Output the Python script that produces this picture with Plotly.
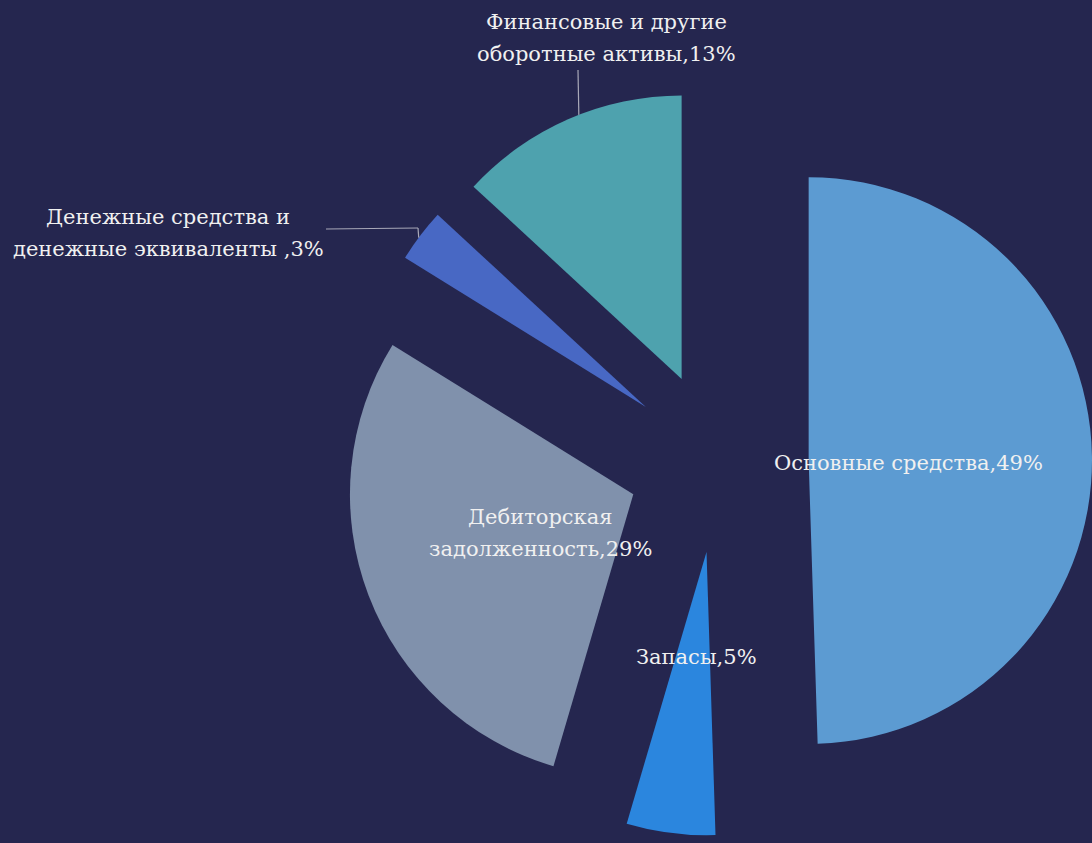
import math
import plotly.graph_objects as go

# Asset structure, percent of total
categories = [
    "Основные средства",
    "Запасы",
    "Дебиторская задолженность",
    "Денежные средства и денежные эквиваленты",
    "Финансовые и другие оборотные активы",
]
shares = [49, 5, 29, 3, 13]
label_lines = [
    ["Основные средства,49%"],
    ["Запасы,5%"],
    ["Дебиторская", "задолженность,29%"],
    ["Денежные средства и", "денежные эквиваленты ,3%"],
    ["Финансовые и другие", "оборотные активы,13%"],
]
colors = ["#5c9bd2", "#2b86de", "#8091ac", "#4868c4", "#4ea2ae"]

W, H = 1092, 843
BG = "#25264f"
PULL = 0.32
DOM_X = [0.315, 1.0]
DOM_Y = [0.0, 0.904]
FONT = "DejaVu Serif"
FONT_SIZE = 21
LINE_GAP = 32
TXT = "#f0f0f0"

fig = go.Figure(
    go.Pie(
        labels=categories,
        values=shares,
        sort=False,
        direction="clockwise",
        rotation=0,
        pull=[PULL] * len(shares),
        marker=dict(colors=colors, line=dict(width=0)),
        textinfo="none",
        hoverinfo="label+percent",
        showlegend=False,
        domain=dict(x=DOM_X, y=DOM_Y),
    )
)

# Pie geometry in pixels (same rule plotly uses to size a pulled pie)
rx = W * (DOM_X[1] - DOM_X[0]) / 2
ry = H * (DOM_Y[1] - DOM_Y[0]) / 2
R = min(rx, ry) / (1 + PULL)
CX = W * (DOM_X[0] + DOM_X[1]) / 2
CY = H * (1 - DOM_Y[0]) - ry
total = sum(shares)
bounds = []
acc = 0
for v in shares:
    a0 = acc / total * 360
    acc += v
    bounds.append((a0, acc / total * 360))


def arc_point(i, frac):
    """Pixel point on the outer arc of slice i, frac in [0, 1] along the arc."""
    a0, a1 = bounds[i]
    mid = math.radians((a0 + a1) / 2)
    ox = CX + PULL * R * math.sin(mid)
    oy = CY - PULL * R * math.cos(mid)
    ang = math.radians(a0 + (a1 - a0) * frac)
    return ox + R * math.sin(ang), oy - R * math.cos(ang)


def px(x, y):
    return x / W, 1 - y / H


# label centre points (pixels) for each slice
label_pos = [(908, 463), (696, 657), (540, 533), (168, 233), (606, 38)]

for lines, (lx, ly) in zip(label_lines, label_pos):
    n = len(lines)
    for k, line in enumerate(lines):
        y_line = ly + (k - (n - 1) / 2) * LINE_GAP
        x, y = px(lx, y_line)
        fig.add_annotation(
            x=x, y=y, xref="paper", yref="paper", text=line, showarrow=False,
            xanchor="center", yanchor="middle", align="center",
            font=dict(family=FONT, size=FONT_SIZE, color=TXT),
        )

# leader lines for the two outside labels
leaders = [
    (3, [(326, 229), (418, 228)], 0.45),
    (4, [(578, 70)], 0.55),
]
for idx, pts, frac in leaders:
    ex, ey = arc_point(idx, frac)
    path_pts = pts + [(ex, ey)]
    for (x0, y0), (x1, y1) in zip(path_pts[:-1], path_pts[1:]):
        a, b = px(x0, y0)
        c, d = px(x1, y1)
        fig.add_shape(
            type="line", xref="paper", yref="paper", x0=a, y0=b, x1=c, y1=d,
            line=dict(color="#a8a8b8", width=1.2),
        )

fig.update_layout(
    width=W,
    height=H,
    margin=dict(l=0, r=0, t=0, b=0),
    paper_bgcolor=BG,
    plot_bgcolor=BG,
)

fig.write_html("out.html")
